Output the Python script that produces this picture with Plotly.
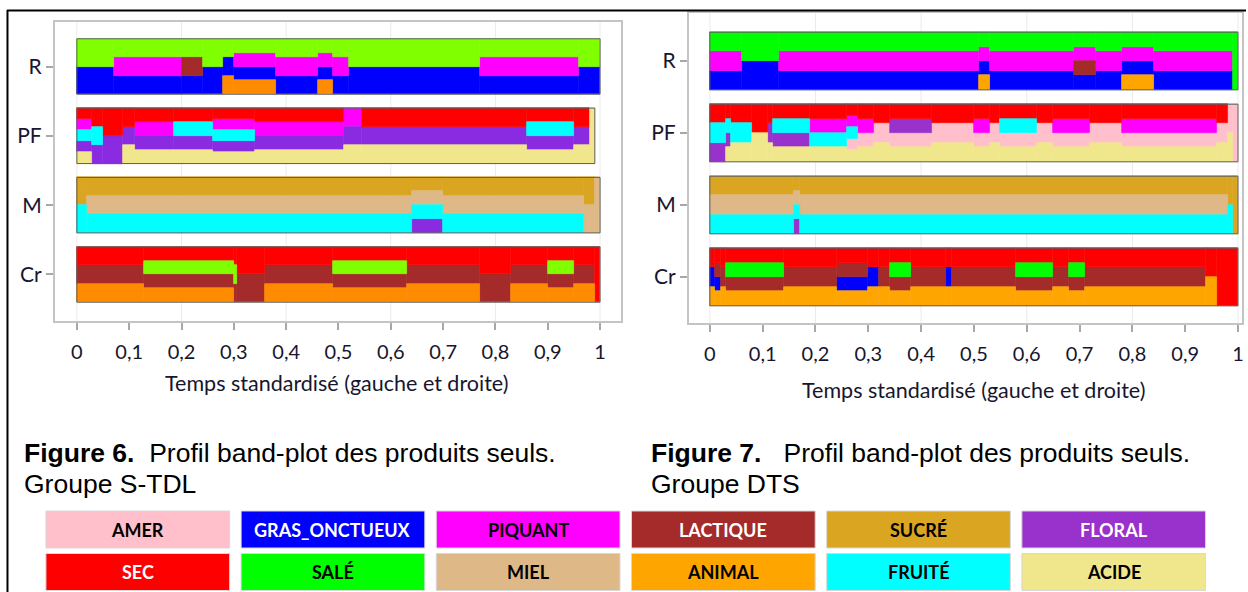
import plotly.graph_objects as go

# ---------------------------------------------------------------------------
# Attributes (code -> label) and colours
# ---------------------------------------------------------------------------
ATTR_CODES = ["AM", "GO", "PQ", "LA", "SU", "FL", "SE", "SA", "MI", "AN", "FR", "AC"]
ATTR_LABELS = ["AMER", "GRAS_ONCTUEUX", "PIQUANT", "LACTIQUE", "SUCRÉ", "FLORAL",
               "SEC", "SALÉ", "MIEL", "ANIMAL", "FRUITÉ", "ACIDE"]
ATTR_COLORS = ["#FFC0CB", "#0000FF", "#FF00FF", "#A52A2A", "#DAA520", "#9932CC",
               "#FF0000", "#00FF00", "#DEB887", "#FFA500", "#00FFFF", "#F0E68C"]
ATTR_TEXT_COLORS = ["#000000", "#FFFFFF", "#000000", "#FFFFFF", "#000000", "#FFFFFF",
                    "#FFFFFF", "#000000", "#000000", "#000000", "#000000", "#000000"]
# the S-TDL panel was rendered with a slightly different palette
STDL_COLOR_OVERRIDES = {"SA": "#7FFF00", "AN": "#FF8C00", "FL": "#8A2BE2"}

PRODUCTS = ["R", "PF", "M", "Cr"]
TIME_TICKS = [0.0, 0.1, 0.2, 0.3, 0.4, 0.5, 0.6, 0.7, 0.8, 0.9, 1.0]
TIME_TICK_TEXT = ["0", "0,1", "0,2", "0,3", "0,4", "0,5", "0,6", "0,7", "0,8", "0,9", "1"]
GRID_T = [0.0, 0.2, 0.4, 0.6, 0.8, 1.0]
X_TITLE = "Temps standardisé (gauche et droite)"

# ---------------------------------------------------------------------------
# Band-plot segments: (start, end, dominant attributes from top to bottom)
# ---------------------------------------------------------------------------
STDL_R = [(0.00, 0.07, "SA GO"), (0.07, 0.20, "SA PQ GO"), (0.20, 0.24, "SA LA GO"),
          (0.24, 0.28, "SA GO"), (0.28, 0.30, "SA GO AN"), (0.30, 0.38, "SA PQ GO AN"),
          (0.38, 0.46, "SA PQ GO"), (0.46, 0.49, "SA PQ GO AN"), (0.49, 0.52, "SA PQ GO"),
          (0.52, 0.77, "SA GO"), (0.77, 0.96, "SA PQ GO"), (0.96, 1.00, "SA GO")]
STDL_PF = [(0.00, 0.028, "SE PQ FR FL AC"), (0.028, 0.05, "SE FR FL"), (0.05, 0.088, "SE FL"),
           (0.088, 0.11, "SE FL AC"), (0.11, 0.185, "SE PQ FL AC"), (0.185, 0.26, "SE FR FL AC"),
           (0.26, 0.34, "SE PQ FR FL AC"), (0.34, 0.51, "SE PQ FL AC"), (0.51, 0.545, "PQ FL AC"),
           (0.545, 0.86, "SE FL AC"), (0.86, 0.95, "SE FR FL AC"), (0.95, 0.98, "SE FL AC"),
           (0.98, 0.99, "AC")]
STDL_M = [(0.00, 0.02, "SU FR"), (0.02, 0.64, "SU MI FR"), (0.64, 0.70, "SU MI FR FL"),
          (0.70, 0.97, "SU MI FR"), (0.97, 0.99, "SU MI"), (0.99, 1.00, "MI")]
STDL_CR = [(0.00, 0.128, "SE LA AN"), (0.128, 0.30, "SE SA LA AN"), (0.30, 0.305, "SE SA LA"),
           (0.305, 0.36, "SE LA"), (0.36, 0.49, "SE LA AN"), (0.49, 0.63, "SE SA LA AN"),
           (0.63, 0.77, "SE LA AN"), (0.77, 0.83, "SE LA"), (0.83, 0.90, "SE LA AN"),
           (0.90, 0.95, "SE SA LA AN"), (0.95, 0.99, "SE LA AN"), (0.99, 1.00, "SE")]

DTS_R = [(0.00, 0.06, "SA PQ GO"), (0.06, 0.13, "SA GO"), (0.13, 0.51, "SA PQ GO"),
         (0.51, 0.53, "SA PQ GO AN"), (0.53, 0.69, "SA PQ GO"), (0.69, 0.73, "SA PQ LA GO"),
         (0.73, 0.78, "SA PQ GO"), (0.78, 0.84, "SA PQ GO AN"), (0.84, 0.99, "SA PQ GO"),
         (0.99, 1.00, "SA")]
DTS_PF = [(0.00, 0.03, "SE FR FL"), (0.03, 0.04, "SE FR FL AC"), (0.04, 0.08, "SE FR AC"),
          (0.08, 0.11, "SE AC"), (0.11, 0.12, "SE FL AC"), (0.12, 0.19, "SE FR FL AC"),
          (0.19, 0.26, "SE PQ FR AC"), (0.26, 0.28, "SE PQ FR AM AC"), (0.28, 0.31, "SE PQ AM AC"),
          (0.31, 0.34, "SE AM AC"), (0.34, 0.42, "SE FL AM AC"), (0.42, 0.50, "SE AM AC"),
          (0.50, 0.53, "SE PQ AM AC"), (0.53, 0.55, "SE AM AC"), (0.55, 0.62, "SE FR AM AC"),
          (0.62, 0.65, "SE AM AC"), (0.65, 0.72, "SE PQ AM AC"), (0.72, 0.78, "SE AM AC"),
          (0.78, 0.96, "SE PQ AM AC"), (0.96, 0.98, "SE AM AC"), (0.98, 0.99, "AM AC"),
          (0.99, 1.00, "AM")]
DTS_M = [(0.00, 0.16, "SU MI FR"), (0.16, 0.17, "SU MI FR FL"), (0.17, 0.98, "SU MI FR"),
         (0.98, 0.99, "SU FR"), (0.99, 1.00, "SU")]
DTS_CR = [(0.00, 0.01, "SE GO AN"), (0.01, 0.02, "SE LA GO AN"), (0.02, 0.03, "SE LA AN"),
          (0.03, 0.14, "SE SA LA AN"), (0.14, 0.24, "SE LA AN"), (0.24, 0.30, "SE LA GO AN"),
          (0.30, 0.32, "SE GO AN"), (0.32, 0.34, "SE LA AN"), (0.34, 0.38, "SE SA LA AN"),
          (0.38, 0.447, "SE LA AN"), (0.447, 0.458, "SE GO AN"), (0.458, 0.58, "SE LA AN"),
          (0.58, 0.65, "SE SA LA AN"), (0.65, 0.68, "SE LA AN"), (0.68, 0.71, "SE SA LA AN"),
          (0.71, 0.94, "SE LA AN"), (0.94, 0.96, "SE AN"), (0.96, 1.00, "SE")]

STDL_ROWS = [STDL_R, STDL_PF, STDL_M, STDL_CR]
DTS_ROWS = [DTS_R, DTS_PF, DTS_M, DTS_CR]

# ---------------------------------------------------------------------------
# Drawing
# ---------------------------------------------------------------------------
W, H = 1248, 592
BAND_H = 0.8
TXT = "#16162e"
FONT = "Lato"


def px(x):
    return x / W


def py(y):
    return 1 - y / H


fig = go.Figure()
base_colors = dict(zip(ATTR_CODES, ATTR_COLORS))


def add_panel(rows, xa, ya, overrides):
    colors = dict(base_colors, **overrides)
    n = len(rows)
    bars = {c: dict(x=[], w=[], h=[], b=[]) for c in ATTR_CODES}
    for i, segs in enumerate(rows):
        centre = n - i
        top = centre + BAND_H / 2
        for t0, t1, attrs in segs:
            codes = attrs.split()
            h = BAND_H / len(codes)
            for k, c in enumerate(codes):
                bars[c]["x"].append((t0 + t1) / 2)
                bars[c]["w"].append(t1 - t0)
                bars[c]["h"].append(h)
                bars[c]["b"].append(top - (k + 1) * h)
        # outline of the whole band
        fig.add_shape(type="rect", xref=xa, yref=ya, x0=segs[0][0], x1=segs[-1][1],
                      y0=centre - BAND_H / 2, y1=centre + BAND_H / 2,
                      line=dict(color="#5e5e5e", width=1), layer="above")
    for c in ATTR_CODES:
        d = bars[c]
        if not d["x"]:
            continue
        fig.add_trace(go.Bar(x=d["x"], y=d["h"], base=d["b"], width=d["w"],
                             marker=dict(color=colors[c], line=dict(color=colors[c], width=0.6)),
                             xaxis=xa, yaxis=ya, showlegend=False, hoverinfo="skip"))
    for g in GRID_T:
        fig.add_shape(type="line", xref=xa, yref=ya + " domain", x0=g, x1=g, y0=0, y1=1,
                      line=dict(color="#ebebeb", width=1), layer="below")


add_panel(STDL_ROWS, "x", "y", STDL_COLOR_OVERRIDES)
add_panel(DTS_ROWS, "x2", "y2", {})

xcommon = dict(tickmode="array", tickvals=TIME_TICKS, ticktext=TIME_TICK_TEXT,
               ticks="outside", ticklen=7, tickwidth=1.5, tickcolor="#a8a8a8",
               showgrid=False, zeroline=False, showline=True, mirror=True,
               linecolor="#c4c4c4", linewidth=2, ticklabelstandoff=5,
               tickfont=dict(family=FONT, size=20, color=TXT))
ycommon = dict(tickmode="array", tickvals=[4, 3, 2, 1], ticktext=PRODUCTS,
               ticks="outside", ticklen=7, tickwidth=1.5, tickcolor="#a8a8a8",
               showgrid=False, zeroline=False, showline=True, mirror=True,
               linecolor="#c4c4c4", linewidth=2,
               tickfont=dict(family=FONT, size=21, color=TXT))

fig.update_layout(
    xaxis=dict(xcommon, domain=[px(55), px(622)], range=[-0.042, 1.040], anchor="y"),
    yaxis=dict(ycommon, domain=[py(321), py(22)], range=[0.329, 4.642], anchor="x"),
    xaxis2=dict(xcommon, domain=[px(690), px(1244)], range=[-0.0397, 1.0076], anchor="y2"),
    yaxis2=dict(ycommon, domain=[py(323), py(13)], range=[0.361, 4.667], anchor="x2"),
)

# time-axis titles
for cx, cy in ((337, 383), (975, 390)):
    fig.add_annotation(xref="paper", yref="paper", x=px(cx), y=py(cy), text=X_TITLE,
                       showarrow=False, xanchor="center", yanchor="middle",
                       font=dict(family=FONT, size=21.5, color=TXT))

# frame lines around the figure pair
fig.add_shape(type="line", xref="paper", yref="paper", x0=px(7.5), x1=px(7.5), y0=0, y1=py(10),
              line=dict(color="#000000", width=2))
fig.add_shape(type="line", xref="paper", yref="paper", x0=px(7), x1=1, y0=py(10.5), y1=py(10.5),
              line=dict(color="#000000", width=2))

# figure captions
CAPTIONS = [
    (22, "<b>Figure 6.</b>\u00a0\u00a0Profil band-plot des produits seuls.", "Groupe S-TDL"),
    (650, "<b>Figure 7.</b>\u00a0\u00a0\u00a0Profil band-plot des produits seuls.", "Groupe DTS"),
]
for x0, l1, l2 in CAPTIONS:
    for yy, txt in ((453, l1), (484, l2)):
        fig.add_annotation(xref="paper", yref="paper", x=px(x0), y=py(yy), text=txt,
                           showarrow=False, xanchor="left", yanchor="middle",
                           font=dict(family="Liberation Sans", size=26.5, color="#000000"))

# colour key: two rows of six boxes
for i, (lab, col, tcol) in enumerate(zip(ATTR_LABELS, ATTR_COLORS, ATTR_TEXT_COLORS)):
    r, c = divmod(i, 6)
    x0 = 46 + c * 195.5
    y0 = 511 + r * 42.5
    fig.add_shape(type="rect", xref="paper", yref="paper", x0=px(x0), x1=px(x0 + 184),
                  y0=py(y0 + 37), y1=py(y0), fillcolor=col, line=dict(color="#d8d8d8", width=1))
    fig.add_annotation(xref="paper", yref="paper", x=px(x0 + 92), y=py(y0 + 18.5),
                       text=f"<b>{lab}</b>", showarrow=False, xanchor="center", yanchor="middle",
                       font=dict(family=FONT, size=18, color=tcol))

fig.update_layout(width=W, height=H, autosize=False, margin=dict(l=0, r=0, t=0, b=0),
                  paper_bgcolor="#FFFFFF", plot_bgcolor="#FFFFFF", barmode="overlay",
                  bargap=0)

fig.write_html("out.html")
